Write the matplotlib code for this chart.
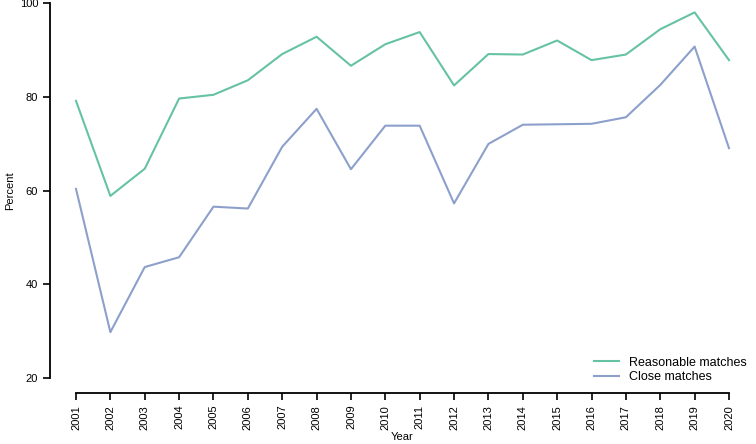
import matplotlib
matplotlib.use("Agg")
import matplotlib.pyplot as plt

years = list(range(2001, 2021))
reasonable = [79.2, 58.9, 64.7, 79.7, 80.5, 83.6, 89.2, 92.9, 86.7, 91.3,
              93.9, 82.5, 89.2, 89.1, 92.1, 87.9, 89.1, 94.5, 98.1, 87.9]
close = [60.4, 29.8, 43.7, 45.8, 56.6, 56.2, 69.4, 77.5, 64.6, 73.9,
         73.9, 57.3, 70.0, 74.1, 74.2, 74.3, 75.7, 82.6, 90.8, 69.1]
yticks = [20, 40, 60, 80, 100]

plt.rcParams['font.family'] = ['Liberation Sans', 'DejaVu Sans']

W, H = 756, 444
fig = plt.figure(figsize=(W / 100, H / 100), dpi=100)
ax = fig.add_axes([76 / W, (H - 378) / H, (729 - 76) / W, (378 - 3.5) / H])

ax.plot(years, reasonable, color='#66c2a5', lw=1.5, label='Reasonable matches', clip_on=False)
ax.plot(years, close, color='#8da0cb', lw=1.5, label='Close matches', clip_on=False)

ax.set_xlim(2001, 2020)
ax.set_ylim(20, 100)
ax.set_xticks(years)
ax.set_xticklabels([str(y) for y in years])
ax.set_yticks(yticks)
ax.tick_params(axis='both', labelsize=8, width=1.2, length=5, color='black')
ax.tick_params(axis='x', labelrotation=90)

for s in ['top', 'right']:
    ax.spines[s].set_visible(False)
ax.spines['left'].set_position(('outward', 26 * 0.72))
ax.spines['bottom'].set_position(('outward', 15 * 0.72))
ax.spines['left'].set_linewidth(1.3)
ax.spines['bottom'].set_linewidth(1.3)

ax.set_ylabel('Percent', fontsize=8, labelpad=3)
ax.set_xlabel('Year', fontsize=8, labelpad=2)

fig.legend(loc='lower right', bbox_to_anchor=(752 / W, (H - 388) / H), frameon=False,
           fontsize=9, handlelength=2.0, handletextpad=0.8, labelspacing=0.2,
           borderaxespad=0)

fig.savefig('out.png', dpi=100)
